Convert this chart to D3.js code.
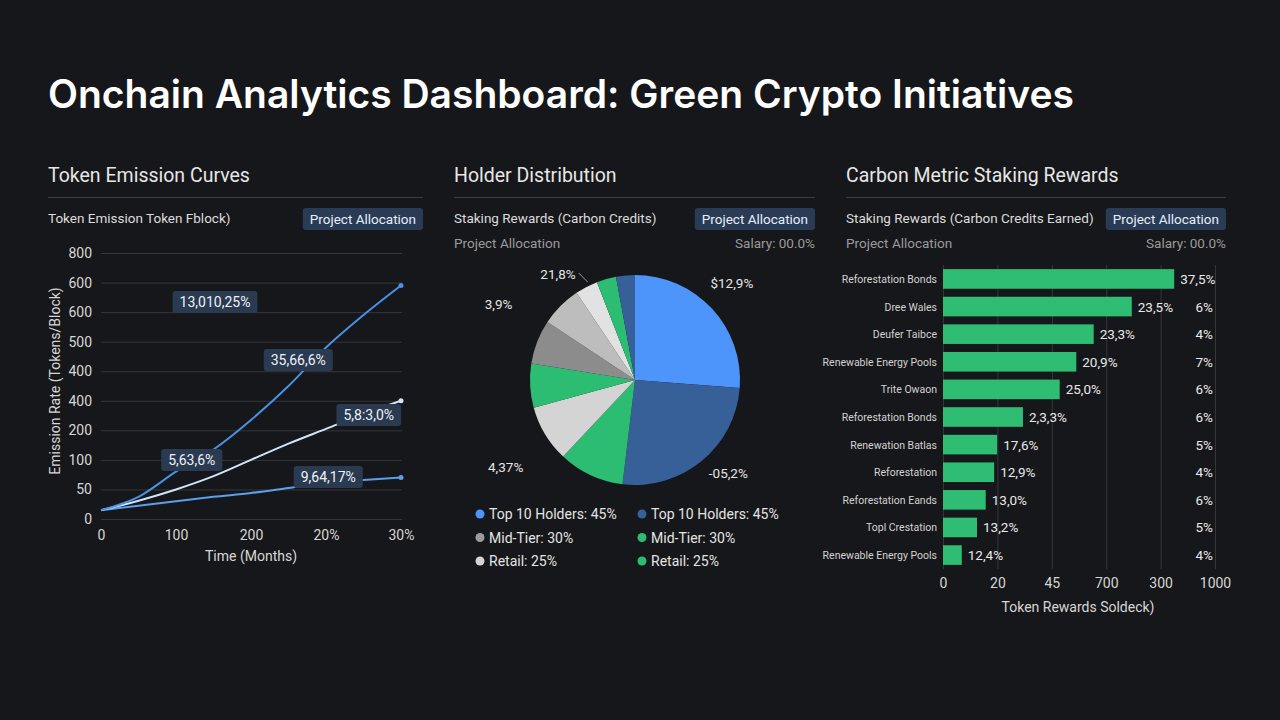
<!DOCTYPE html>
<html>
<head>
<meta charset="utf-8">
<script src="https://cdn.jsdelivr.net/npm/d3@7"></script>
<style>
  html, body { margin: 0; padding: 0; background: #16171a; }
  svg { display: block; font-family: Roboto, "Noto Sans", sans-serif; }
</style>
</head>
<body>
<svg id="dash" width="1280" height="720"></svg>
<script>
// ---- data ----
const emissionMonths = [0, 50, 100, 150, 200, 250, 300, 350, 400];
const emissionFast = [30, 75, 160, 235, 335, 450, 580, 690, 790];
const emissionMid = [30, 62, 100, 145, 200, 255, 305, 355, 400];
const emissionSlow = [30, 45, 60, 75, 88, 105, 122, 132, 140];
const emissionYTicks = [0, 100, 200, 300, 400, 500, 600, 700, 800, 900];
const emissionYLabels = ["0", "50", "100", "200", "400", "400", "500", "600", "600", "800"];
const emissionXTicks = [0, 100, 200, 300, 400];
const emissionXLabels = ["0", "100", "200", "20%", "30%"];
const emissionNotes = [
  { text: "13,010,25%", m: 152, v: 734 },
  { text: "35,66,6%", m: 263, v: 538 },
  { text: "5,8:3,0%", m: 357, v: 352 },
  { text: "5,63,6%", m: 121, v: 200 },
  { text: "9,64,17%", m: 303, v: 142 }
];

const holderShares = [26.2, 25.7, 10.1, 8.75, 6.75, 6.8, 6.3, 3.5, 3.0, 2.9];
const holderColors = ["#4d94fb", "#375f98", "#2cbd73", "#d4d4d4", "#2cbd73", "#8c8c8c", "#bdbdbd", "#e2e2e2", "#2cbd73", "#375f98"];
const holderLabelTexts = ["$12,9%", "-05,2%", "4,37%", "3,9%", "21,8%"];
const legendTexts = ["Top 10 Holders: 45%", "Top 10 Holders: 45%", "Mid-Tier: 30%", "Mid-Tier: 30%", "Retail: 25%", "Retail: 25%"];
const legendColors = ["#4d94fb", "#375f98", "#9a9a9a", "#2cbd73", "#d4d4d4", "#2cbd73"];

const rewardCategories = ["Reforestation Bonds", "Dree Wales", "Deufer Taibce", "Renewable Energy Pools", "Trite Owaon",
  "Reforestation Bonds", "Renewation Batlas", "Reforestation", "Reforestation Eands", "Topl Crestation", "Renewable Energy Pools"];
const rewardValues = [850, 694, 554, 490, 429, 294, 199, 188, 157, 125, 69];
const rewardLabels = ["37,5%", "23,5%", "23,3%", "20,9%", "25,0%", "2,3,3%", "17,6%", "12,9%", "13,0%", "13,2%", "12,4%"];
const rewardShares = ["", "6%", "4%", "7%", "6%", "6%", "5%", "4%", "6%", "5%", "4%"];
const rewardXTicks = [0, 200, 400, 600, 800, 1000];
const rewardXLabels = ["0", "20", "45", "700", "300", "1000"];

// label placement around the pie (angle in degrees clockwise from top, distance from centre)
const holderLabelSpots = [[45, 137], [135, 132], [236, 156], [299, 156], [324, 131]];

// ---- drawing ----
const svg = d3.select("#dash");
const textCol = "#e6e6e6";
const dimCol = "#9b9b9b";
const gridCol = "#34363a";
const axisFont = "Roboto, sans-serif";

svg.append("text")
  .attr("x", 48).attr("y", 108)
  .attr("fill", "#ffffff")
  .attr("font-family", "Inter, sans-serif")
  .attr("font-size", 39).attr("font-weight", 600)
  .text("Onchain Analytics Dashboard: Green Crypto Initiatives");

function badge(g, xRight, y, label) {
  const t = g.append("text")
    .attr("x", 0).attr("y", y + 15.5)
    .attr("fill", "#e8eef8").attr("font-size", 13.5)
    .text(label);
  const w = t.node().getComputedTextLength() + 14;
  g.insert("rect", "text")
    .attr("x", xRight - w).attr("y", y)
    .attr("width", w).attr("height", 22)
    .attr("rx", 3).attr("fill", "#2a3b56");
  t.attr("x", xRight - w + 7);
}

function panelHeader(x0, x1, title, sub, withInfo) {
  const g = svg.append("g");
  g.append("text").attr("x", x0).attr("y", 182)
    .attr("fill", textCol).attr("font-size", 19.5).text(title);
  g.append("line").attr("x1", x0).attr("x2", x1).attr("y1", 197.5).attr("y2", 197.5)
    .attr("stroke", "#3a3c40");
  g.append("text").attr("x", x0).attr("y", 223)
    .attr("fill", "#dcdcdc").attr("font-size", 13.5).text(sub);
  badge(g, x1, 208, "Project Allocation");
  if (withInfo) {
    g.append("text").attr("x", x0).attr("y", 248)
      .attr("fill", dimCol).attr("font-size", 13.5).text("Project Allocation");
    g.append("text").attr("x", x1).attr("y", 248).attr("text-anchor", "end")
      .attr("fill", dimCol).attr("font-size", 13.5).text("Salary: 00.0%");
  }
}

// Panel 1: emission curves
panelHeader(48, 423, "Token Emission Curves", "Token Emission Token Fblock)", false);

const x1 = d3.scaleLinear().domain([0, 400]).range([101, 401]);
const y1 = d3.scaleLinear().domain([0, 900]).range([519, 253]);

const p1 = svg.append("g");
p1.append("g")
  .attr("transform", "translate(101,0)")
  .call(d3.axisLeft(y1).tickValues(emissionYTicks).tickSize(-301)
    .tickFormat((d, i) => emissionYLabels[i]))
  .call(g => g.select(".domain").remove())
  .call(g => g.selectAll(".tick line").attr("stroke", gridCol))
  .call(g => g.selectAll(".tick text").attr("x", -9).attr("fill", "#d6d6d6")
    .attr("font-size", 14).attr("font-family", axisFont));

p1.append("g")
  .attr("transform", "translate(0,519)")
  .call(d3.axisBottom(x1).tickValues(emissionXTicks).tickSize(0)
    .tickFormat((d, i) => emissionXLabels[i]))
  .call(g => g.select(".domain").remove())
  .call(g => g.selectAll(".tick text").attr("dy", "1.25em").attr("fill", "#d6d6d6")
    .attr("font-size", 14).attr("font-family", axisFont));

p1.append("text").attr("x", 251).attr("y", 561).attr("text-anchor", "middle")
  .attr("fill", "#d6d6d6").attr("font-size", 14).text("Time (Months)");
p1.append("text").attr("transform", "translate(60,381) rotate(-90)").attr("text-anchor", "middle")
  .attr("fill", "#d6d6d6").attr("font-size", 14).text("Emission Rate (Tokens/Block)");

const emissionSeries = [
  { values: emissionSlow, color: "#5c9fea" },
  { values: emissionMid, color: "#cfe5f8" },
  { values: emissionFast, color: "#4a91e6" }
];
const line1 = d3.line()
  .x((d, i) => x1(emissionMonths[i]))
  .y(d => y1(d))
  .curve(d3.curveMonotoneX);

emissionSeries.forEach(s => {
  p1.append("path").attr("d", line1(s.values))
    .attr("fill", "none").attr("stroke", s.color).attr("stroke-width", 2);
  p1.append("circle")
    .attr("cx", x1(emissionMonths[emissionMonths.length - 1]))
    .attr("cy", y1(s.values[s.values.length - 1]))
    .attr("r", 2.5).attr("fill", s.color);
});

emissionNotes.forEach(n => {
  const g = p1.append("g");
  const t = g.append("text")
    .attr("x", x1(n.m)).attr("y", y1(n.v) + 5)
    .attr("text-anchor", "middle").attr("fill", "#eef2f8")
    .attr("font-size", 14).text(n.text);
  const w = t.node().getComputedTextLength() + 14;
  g.insert("rect", "text")
    .attr("x", x1(n.m) - w / 2).attr("y", y1(n.v) - 11)
    .attr("width", w).attr("height", 22).attr("rx", 3)
    .attr("fill", "#2a3a50");
});

// Panel 2: holder distribution
panelHeader(454, 815, "Holder Distribution", "Staking Rewards (Carbon Credits)", true);

const cx = 635, cy = 380, r = 105;
const pie = d3.pie().sort(null).value(d => d);
const arcs = pie(holderShares);
const arc = d3.arc().innerRadius(0).outerRadius(r);
const p2 = svg.append("g").attr("transform", `translate(${cx},${cy})`);
p2.selectAll("path").data(arcs).join("path")
  .attr("d", arc)
  .attr("fill", (d, i) => holderColors[i]);

holderLabelTexts.forEach((txt, i) => {
  const [deg, dist] = holderLabelSpots[i];
  const a = deg * Math.PI / 180;
  const lx = Math.sin(a) * dist, ly = -Math.cos(a) * dist;
  const t = p2.append("text")
    .attr("x", lx).attr("y", ly + 5)
    .attr("text-anchor", "middle")
    .attr("fill", "#e4e4e4").attr("font-size", 13.5)
    .text(txt);
  if (i === holderLabelTexts.length - 1) {
    const w = t.node().getComputedTextLength();
    p2.append("line")
      .attr("x1", lx + w / 2 + 3).attr("y1", ly - 1)
      .attr("x2", lx + w / 2 + 12).attr("y2", ly + 8)
      .attr("stroke", "#9a9a9a").attr("stroke-width", 1);
  }
});

const legend = svg.append("g");
legendTexts.forEach((txt, i) => {
  const lx = i % 2 === 0 ? 480 : 642;
  const ly = 514 + Math.floor(i / 2) * 23.5;
  legend.append("circle").attr("cx", lx).attr("cy", ly).attr("r", 4.5).attr("fill", legendColors[i]);
  legend.append("text").attr("x", lx + 9).attr("y", ly + 5)
    .attr("fill", "#e4e4e4").attr("font-size", 14).text(txt);
});

// Panel 3: staking rewards bars
panelHeader(846, 1226, "Carbon Metric Staking Rewards", "Staking Rewards (Carbon Credits Earned)", true);

const x3 = d3.scaleLinear().domain([0, 1000]).range([943, 1215]);
const y3 = d3.scaleBand().domain(d3.range(rewardValues.length)).range([265, 569]).paddingInner(0.29).paddingOuter(0.15);
const p3 = svg.append("g");

p3.append("g")
  .attr("transform", "translate(0,569)")
  .call(d3.axisBottom(x3).tickValues(rewardXTicks).tickSize(-304)
    .tickFormat((d, i) => rewardXLabels[i]))
  .call(g => g.select(".domain").remove())
  .call(g => g.selectAll(".tick line").attr("stroke", gridCol))
  .call(g => g.selectAll(".tick text").attr("dy", "1.15em").attr("fill", "#d6d6d6")
    .attr("font-size", 14).attr("font-family", axisFont));

p3.selectAll("rect.bar").data(rewardValues).join("rect")
  .attr("class", "bar")
  .attr("x", x3(0)).attr("y", (d, i) => y3(i))
  .attr("width", d => x3(d) - x3(0)).attr("height", y3.bandwidth())
  .attr("fill", "#2ebd72");

p3.selectAll("text.cat").data(rewardCategories).join("text")
  .attr("class", "cat")
  .attr("x", 937).attr("y", (d, i) => y3(i) + y3.bandwidth() / 2 + 4)
  .attr("text-anchor", "end").attr("fill", "#d2d2d2").attr("font-size", 10.5)
  .text(d => d);

p3.selectAll("text.val").data(rewardValues).join("text")
  .attr("class", "val")
  .attr("x", d => x3(d) + 6).attr("y", (d, i) => y3(i) + y3.bandwidth() / 2 + 5)
  .attr("fill", "#e8e8e8").attr("font-size", 13.5)
  .text((d, i) => rewardLabels[i]);

p3.selectAll("text.share").data(rewardShares).join("text")
  .attr("class", "share")
  .attr("x", 1213).attr("y", (d, i) => y3(i) + y3.bandwidth() / 2 + 5)
  .attr("text-anchor", "end").attr("fill", "#e8e8e8").attr("font-size", 13.5)
  .text(d => d);

p3.append("text").attr("x", 1078).attr("y", 612).attr("text-anchor", "middle")
  .attr("fill", "#d6d6d6").attr("font-size", 14).text("Token Rewards Soldeck)");
</script>
</body>
</html>
